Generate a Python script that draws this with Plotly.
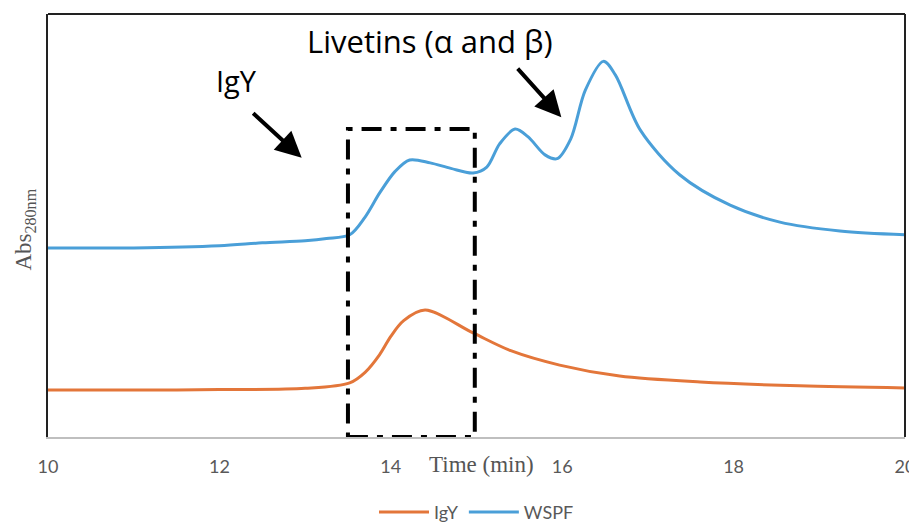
import plotly.graph_objects as go

# WSPF (blue) trace
wspf_x = [10.0, 11.0, 12.0, 12.5, 13.0, 13.25, 13.52, 13.7, 13.87, 14.05, 14.22, 14.46, 14.7, 14.96, 15.12, 15.27, 15.45, 15.6, 15.8, 15.94, 16.1, 16.27, 16.48, 16.62, 16.91, 17.37, 17.96, 18.54, 19.24, 20.0]
wspf_y = [44.7, 44.7, 45.2, 45.9, 46.4, 46.9, 47.8, 52.0, 57.7, 62.8, 65.5, 64.8, 63.5, 62.4, 63.8, 69.3, 72.8, 71.0, 66.7, 65.8, 70.5, 82.0, 88.8, 85.6, 72.6, 62.0, 54.8, 50.8, 48.7, 47.8]

# IgY (orange) trace
igy_x = [10.0, 11.0, 12.0, 13.0, 13.52, 13.7, 13.87, 14.0, 14.15, 14.4, 14.96, 15.4, 15.97, 16.67, 17.61, 18.77, 20.0]
igy_y = [11.1, 11.1, 11.2, 11.5, 12.8, 15.3, 19.5, 23.8, 27.5, 30.0, 24.6, 20.4, 17.0, 14.4, 13.0, 12.1, 11.6]

x_ticks = [10, 12, 14, 16, 18, 20]
box_x = [13.5, 14.98]
box_y = [0, 72.8]

BLUE = "#4a9fd8"
ORANGE = "#e3763a"

fig = go.Figure()
fig.add_trace(go.Scatter(x=igy_x, y=igy_y, name="IgY", mode="lines",
                         line=dict(color=ORANGE, width=3, shape="spline", smoothing=0.9)))
fig.add_trace(go.Scatter(x=wspf_x, y=wspf_y, name="WSPF", mode="lines",
                         line=dict(color=BLUE, width=3, shape="spline", smoothing=0.9)))

# dash-dot box
fig.add_shape(type="rect", xref="x", yref="y", x0=box_x[0], x1=box_x[1], y0=box_y[0], y1=box_y[1],
              line=dict(color="black", width=4, dash="20px,9px,6px,9px"))

# frame lines
fig.add_shape(type="line", xref="paper", yref="paper", x0=0, x1=1, y0=1, y1=1, line=dict(color="#222", width=2))
fig.add_shape(type="line", xref="paper", yref="paper", x0=1, x1=1, y0=0, y1=1, line=dict(color="#222", width=2))

# arrows
fig.add_annotation(x=12.96, y=66.0, xref="x", yref="y", text="", showarrow=True,
                   ax=-50, ay=-46, arrowhead=2, arrowsize=1.3, arrowwidth=4, arrowcolor="black", standoff=0)
fig.add_annotation(x=15.99, y=75.6, xref="x", yref="y", text="", showarrow=True,
                   ax=-45, ay=-50, arrowhead=2, arrowsize=1.3, arrowwidth=4, arrowcolor="black", standoff=0)

# labels
fig.add_annotation(x=(430 - 48) / 85.7 + 10, y=(437 - 41) / 4.23, xref="x", yref="y",
                   text="Livetins (α and β)", showarrow=False,
                   font=dict(family="Open Sans", size=31, color="black"))
fig.add_annotation(x=(236 - 48) / 85.7 + 10, y=(437 - 80) / 4.23, xref="x", yref="y",
                   text="IgY", showarrow=False,
                   font=dict(family="Open Sans", size=29, color="black"))
fig.add_annotation(x=15.06, y=-0.066, xref="x", yref="paper", yanchor="middle", text="Time (min)",
                   showarrow=False, font=dict(family="Liberation Serif", size=23, color="#555"))
fig.add_annotation(x=-0.027, y=0.49, xref="paper", yref="paper", xanchor="center", yanchor="middle",
                   text="Abs<sub>280nm</sub>", textangle=-90, showarrow=False,
                   font=dict(family="Liberation Serif", size=23, color="#555"))

# page body adds an 8px offset; compensate in size and margins
fig.update_layout(
    width=909, height=517,
    margin=dict(l=40, r=12, t=6, b=88, autoexpand=False),
    plot_bgcolor="white", paper_bgcolor="white",
    showlegend=True,
    legend=dict(orientation="h", x=0.5, xanchor="center", y=-0.178, yanchor="middle",
                font=dict(family="Lato", size=18, color="#595959"), itemwidth=50),
    xaxis=dict(range=[10, 20], tickvals=x_ticks, showgrid=False, zeroline=False, automargin=False,
               showline=True, linecolor="#bfbfbf", linewidth=2,
               tickfont=dict(family="Lato", size=18, color="#595959"), ticks="", ticklabelstandoff=12),
    yaxis=dict(range=[0, 100], showticklabels=False, showgrid=False, zeroline=False, automargin=False,
               showline=True, linecolor="#222", linewidth=2, ticks=""),
)

fig.write_html("out.html")
